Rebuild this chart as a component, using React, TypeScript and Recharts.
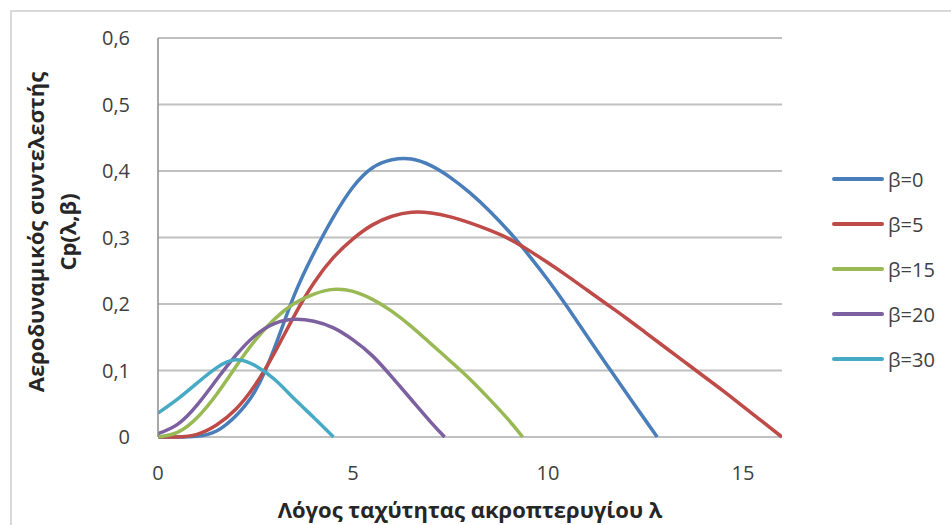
import React from 'react';
import { LineChart, Line, XAxis, YAxis, CartesianGrid } from 'recharts';

// tip speed ratio λ and power coefficient Cp for each pitch angle β
const LAMBDA_B0 = [0, 0.5, 1, 1.5, 2, 2.5, 3, 3.5, 4, 4.5, 5, 5.5, 6, 6.5, 7, 7.5, 8, 8.5, 9, 9.5, 10, 10.5, 11, 11.5, 12, 12.5, 12.8];
const CP_B0 = [0, 0, 0.001, 0.009, 0.032, 0.07, 0.136, 0.214, 0.277, 0.331, 0.376, 0.405, 0.417, 0.418, 0.408, 0.39, 0.367, 0.34, 0.309, 0.274, 0.236, 0.195, 0.152, 0.109, 0.067, 0.025, 0];

const LAMBDA_B5 = [0, 0.5, 1, 1.5, 2, 2.5, 3, 3.5, 4, 4.5, 5, 5.5, 6, 6.5, 7, 7.5, 8, 8.5, 9, 9.5, 10, 10.5, 11, 11.5, 12, 12.5, 13, 13.5, 14, 14.5, 15, 15.5, 16];
const CP_B5 = [0, 0, 0.004, 0.018, 0.042, 0.079, 0.128, 0.183, 0.232, 0.27, 0.298, 0.319, 0.332, 0.338, 0.337, 0.331, 0.322, 0.311, 0.298, 0.281, 0.262, 0.242, 0.221, 0.2, 0.179, 0.157, 0.135, 0.113, 0.091, 0.069, 0.046, 0.023, 0];

const LAMBDA_B15 = [0, 0.5, 1, 1.5, 2, 2.5, 3, 3.5, 4, 4.5, 5, 5.5, 6, 6.5, 7, 7.5, 8, 8.5, 9, 9.35];
const CP_B15 = [0, 0.007, 0.029, 0.064, 0.106, 0.146, 0.178, 0.201, 0.215, 0.222, 0.219, 0.207, 0.189, 0.166, 0.14, 0.114, 0.087, 0.057, 0.025, 0];

const LAMBDA_B20 = [0, 0.5, 1, 1.5, 2, 2.5, 3, 3.5, 4, 4.5, 5, 5.5, 6, 6.5, 7, 7.35];
const CP_B20 = [0.005, 0.019, 0.048, 0.086, 0.123, 0.153, 0.171, 0.177, 0.174, 0.164, 0.146, 0.122, 0.09, 0.056, 0.022, 0];

const LAMBDA_B30 = [0, 0.5, 1, 1.5, 2, 2.5, 3, 3.5, 4, 4.5];
const CP_B30 = [0.036, 0.057, 0.081, 0.104, 0.116, 0.107, 0.086, 0.057, 0.029, 0];

const SERIES_NAMES = ['β=0', 'β=5', 'β=15', 'β=20', 'β=30'];
const COLORS = ['#4a7ebb', '#be4b48', '#98b954', '#7d60a0', '#46aac5'];
const X_TICKS = [0, 5, 10, 15];
const Y_TICKS = [0, 0.1, 0.2, 0.3, 0.4, 0.5, 0.6];

const toPoints = (xs: number[], ys: number[]) => xs.map((x, i) => ({ x, cp: ys[i] }));

const series = [
  toPoints(LAMBDA_B0, CP_B0),
  toPoints(LAMBDA_B5, CP_B5),
  toPoints(LAMBDA_B15, CP_B15),
  toPoints(LAMBDA_B20, CP_B20),
  toPoints(LAMBDA_B30, CP_B30),
];

const FONT = '"Open Sans", sans-serif';

const YTitle = () => (
  <g transform="translate(51,232) rotate(-90)">
    <text textAnchor="middle" y={-16} dominantBaseline="central" fontSize={22} fontWeight="bold" fill="#262626" fontFamily={FONT}>
      Αεροδυναμικός συντελεστής
    </text>
    <text textAnchor="middle" y={16} dominantBaseline="central" fontSize={22} fontWeight="bold" fill="#262626" fontFamily={FONT}>
      Cp(λ,β)
    </text>
  </g>
);

const App = () => {
  return (
    <div style={{ position: 'absolute', left: 0, top: 0, width: 951, height: 525, background: '#fff', fontFamily: FONT }}>
      <div
        style={{
          position: 'absolute',
          left: 10,
          top: 10,
          width: 941,
          height: 515,
          borderLeft: '2px solid #d9d9d9',
          borderTop: '2px solid #d9d9d9',
          boxSizing: 'border-box',
        }}
      />
      <div style={{ position: 'absolute', left: 0, top: 0 }}>
        <LineChart width={951} height={525} margin={{ top: 38, right: 169, bottom: 0, left: 78 }}>
          <CartesianGrid vertical={false} stroke="#c0c0c0" strokeWidth={2} />
          <XAxis
            type="number"
            dataKey="x"
            domain={[0, 16]}
            ticks={X_TICKS}
            allowDataOverflow
            height={88}
            axisLine={false}
            tickLine={false}
            tickMargin={23}
            tick={{ fill: '#404040', fontSize: 20, fontFamily: FONT }}
            label={{
              value: 'Λόγος ταχύτητας ακροπτερυγίου λ',
              position: 'insideBottom',
              offset: 7,
              fill: '#262626',
              fontSize: 22,
              fontWeight: 'bold',
              fontFamily: FONT,
            }}
          />
          <YAxis
            type="number"
            domain={[0, 0.6]}
            ticks={Y_TICKS}
            width={80}
            axisLine={{ stroke: '#8c8c8c', strokeWidth: 1.5 }}
            tickLine={false}
            tickMargin={22}
            tickFormatter={(v: number) => (v === 0 ? '0' : v.toFixed(1).replace('.', ','))}
            tick={{ fill: '#404040', fontSize: 20, fontFamily: FONT }}
            label={{ content: () => <YTitle /> }}
          />
          {series.map((pts, i) => (
            <Line
              key={SERIES_NAMES[i]}
              data={pts}
              dataKey="cp"
              name={SERIES_NAMES[i]}
              type="natural"
              stroke={COLORS[i]}
              strokeWidth={3.5}
              dot={false}
              activeDot={false}
              isAnimationActive={false}
            />
          ))}
        </LineChart>
      </div>
      {SERIES_NAMES.map((name, i) => (
        <div
          key={name}
          style={{ position: 'absolute', left: 832, top: 179 + i * 45 - 12, height: 24, display: 'flex', alignItems: 'center' }}
        >
          <div style={{ width: 52, height: 4, borderRadius: 2, background: COLORS[i] }} />
          <span style={{ marginLeft: 4, fontSize: 20, color: '#404040' }}>{name}</span>
        </div>
      ))}
    </div>
  );
};

export default App;
